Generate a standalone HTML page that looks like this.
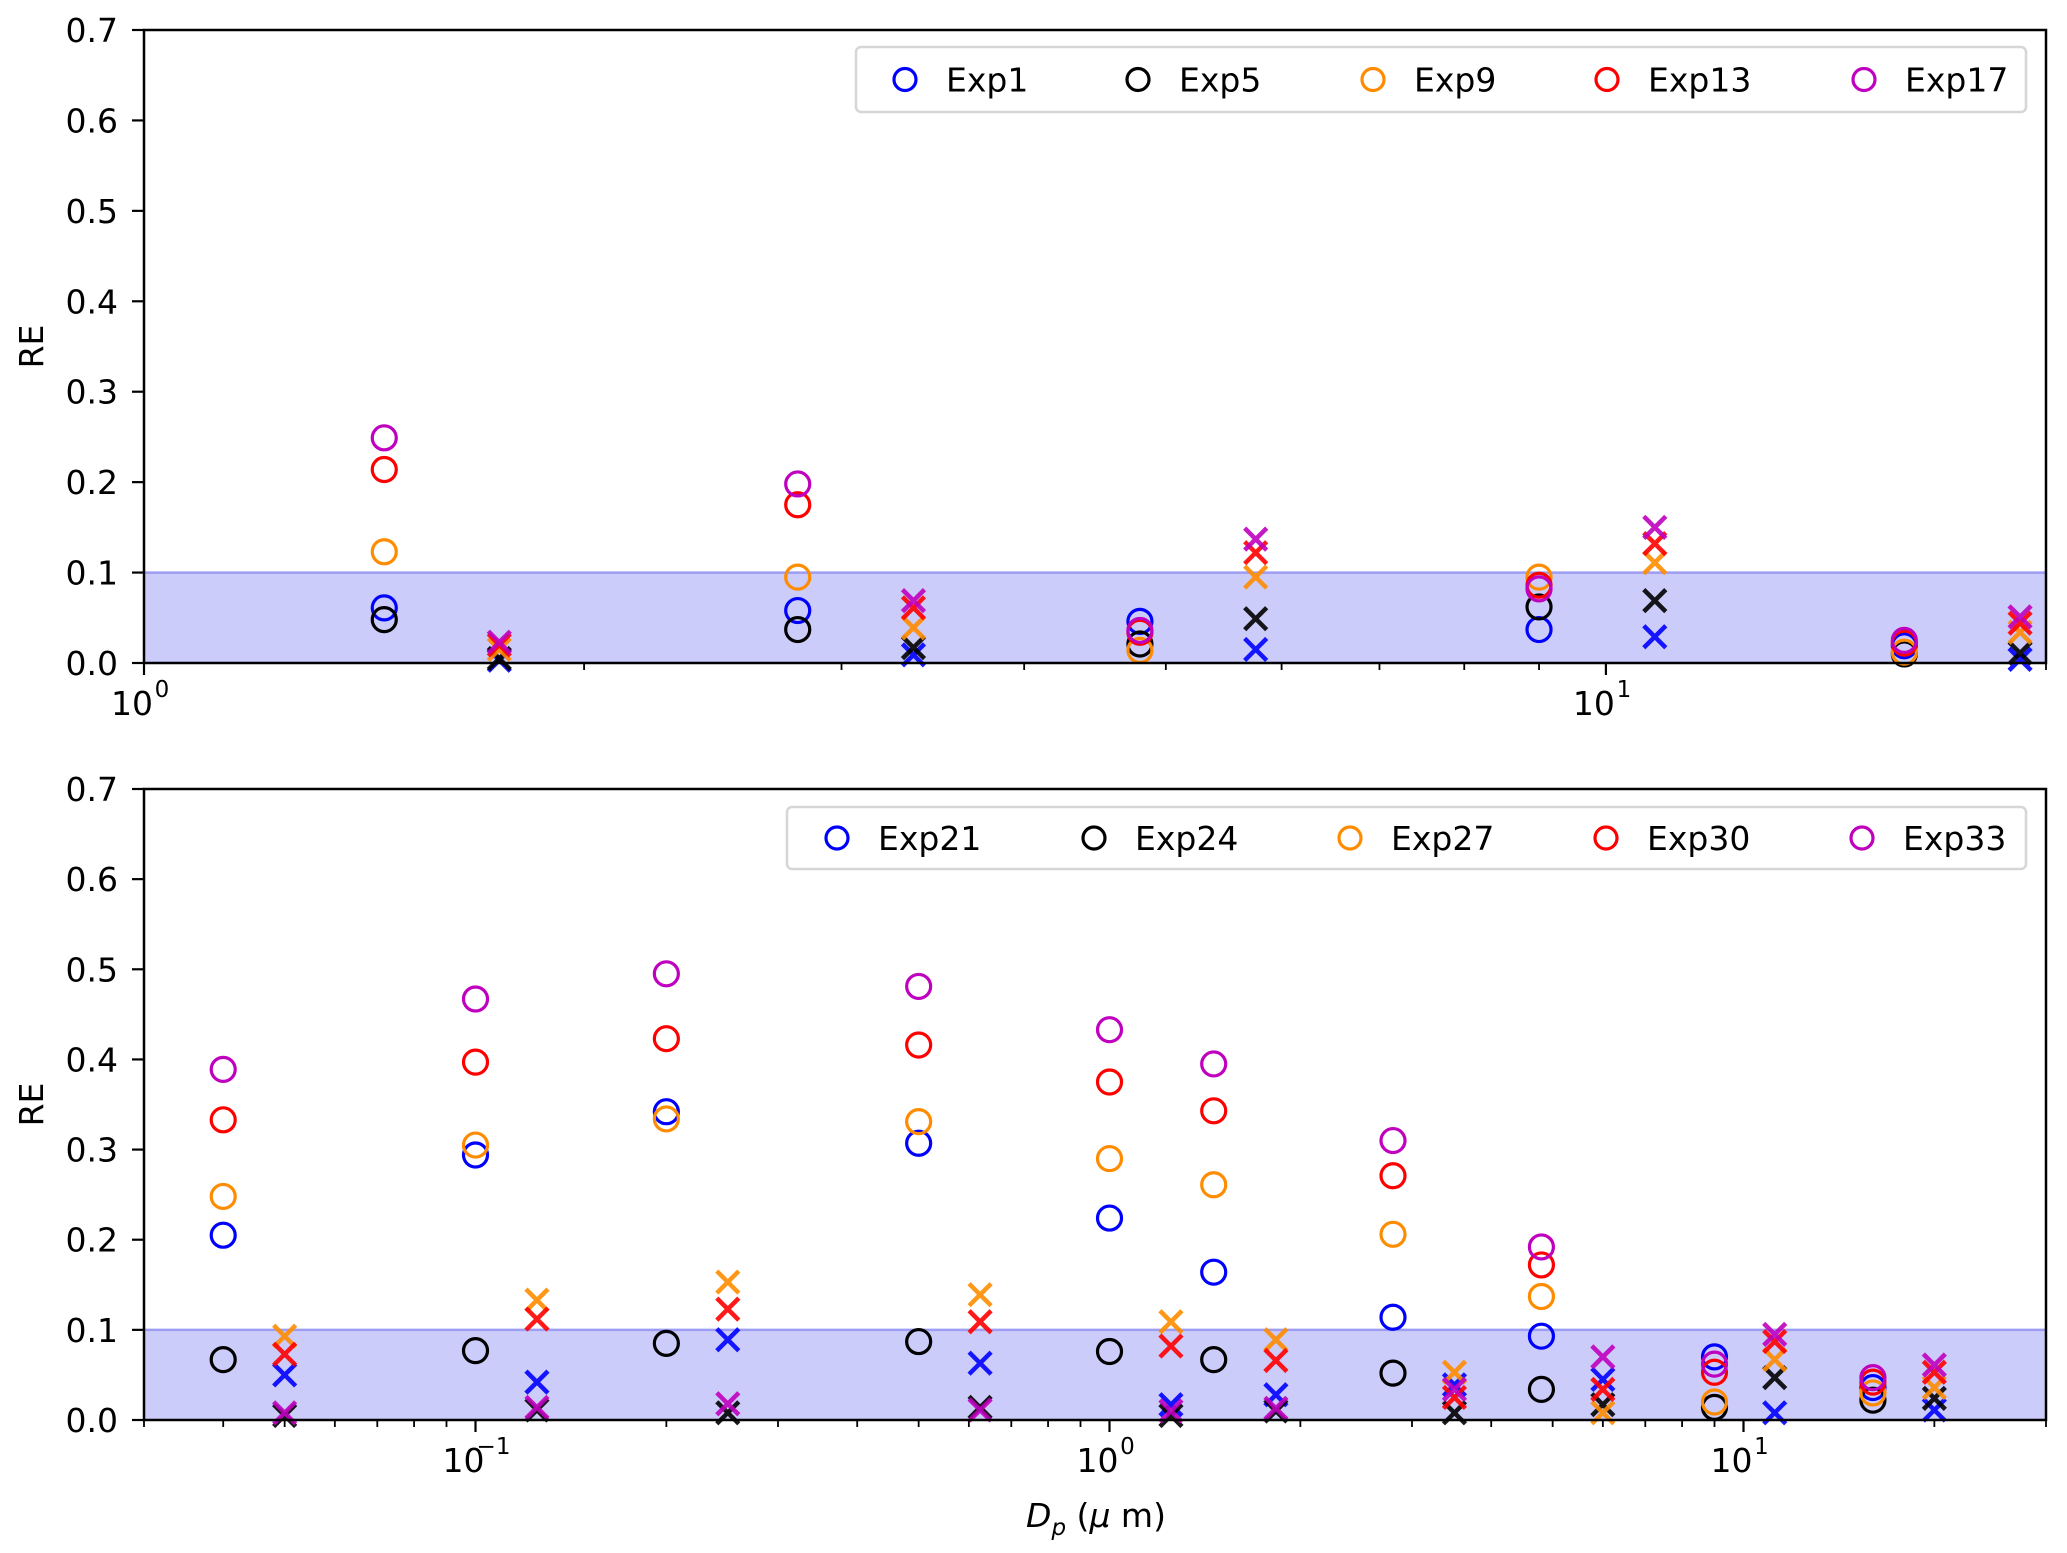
<!DOCTYPE html>
<html><head><meta charset="utf-8"><style>
html,body{margin:0;padding:0;background:#fff;}
svg{display:block;font-family:"DejaVu Sans","Liberation Sans",sans-serif;}
</style></head><body>
<svg id="chart" width="2067" height="1553" viewBox="0 0 2067 1553" xmlns="http://www.w3.org/2000/svg"></svg>
<script>
// ---- Top panel data ----
const topX = [1.46, 1.75, 2.8, 3.36, 4.8, 5.76, 9.0, 10.8, 16.0, 19.2];
const topMarker = ['o','x','o','x','o','x','o','x','o','x'];
const topNames = ['Exp1','Exp5','Exp9','Exp13','Exp17'];
const topExp1  = [0.061, 0.003, 0.058, 0.009, 0.046, 0.015, 0.037, 0.029, 0.019, 0.004];
const topExp5  = [0.048, 0.005, 0.037, 0.017, 0.021, 0.049, 0.062, 0.069, 0.010, 0.011];
const topExp9  = [0.123, 0.015, 0.095, 0.039, 0.014, 0.095, 0.095, 0.111, 0.012, 0.034];
const topExp13 = [0.214, 0.020, 0.175, 0.061, 0.034, 0.122, 0.086, 0.132, 0.022, 0.044];
const topExp17 = [0.249, 0.023, 0.198, 0.069, 0.036, 0.137, 0.082, 0.150, 0.025, 0.051];
// ---- Bottom panel data ----
const botX = [0.04, 0.05, 0.1, 0.125, 0.2, 0.25, 0.5, 0.625, 1.0, 1.25, 1.46, 1.83, 2.8, 3.5, 4.8, 6.0, 9.0, 11.2, 16.0, 20.0];
const botMarker = ['o','x','o','x','o','x','o','x','o','x','o','x','o','x','o','x','o','x','o','x'];
const botNames = ['Exp21','Exp24','Exp27','Exp30','Exp33'];
const botExp21 = [0.205,0.050,0.294,0.042,0.342,0.089,0.307,0.063,0.224,0.017,0.164,0.028,0.114,0.039,0.093,0.045,0.070,0.008,0.036,0.011];
const botExp24 = [0.067,0.005,0.077,0.011,0.085,0.008,0.087,0.014,0.076,0.005,0.067,0.010,0.052,0.008,0.034,0.017,0.014,0.047,0.022,0.024];
const botExp27 = [0.248,0.093,0.305,0.133,0.334,0.153,0.331,0.139,0.290,0.109,0.261,0.089,0.206,0.053,0.137,0.008,0.020,0.067,0.030,0.036];
const botExp30 = [0.333,0.073,0.397,0.112,0.423,0.123,0.416,0.109,0.375,0.082,0.343,0.066,0.271,0.025,0.172,0.034,0.053,0.087,0.042,0.053];
const botExp33 = [0.389,0.008,0.467,0.014,0.495,0.018,0.481,0.011,0.433,0.010,0.395,0.013,0.310,0.034,0.192,0.070,0.062,0.095,0.047,0.061];
const yTicks = [0.0,0.1,0.2,0.3,0.4,0.5,0.6,0.7];
const colors = ['#0000ff','#000000','#ff8c00','#ff0000','#bf00bf'];

const NS='http://www.w3.org/2000/svg';
const svg=document.getElementById('chart');
function mk(tag, attrs, parent){const e=document.createElementNS(NS,tag);for(const k in attrs)e.setAttribute(k,attrs[k]);(parent||svg).appendChild(e);return e;}

function panel(cfg){
  const {L,R,T,B,xmin,xmax,series,xs,markers,names,leg,pfx,decades}=cfg;
  const g=mk('g',{});
  
  
  const lx=Math.log10(xmin), hx=Math.log10(xmax);
  const sx=v=>L+(Math.log10(v)-lx)/(hx-lx)*(R-L);
  const sy=v=>B-v/0.7*(B-T);
  const band=mk('rect',{x:L,y:sy(0.1),width:R-L,height:B-sy(0.1),fill:'#ccccfa'},g);
  
  
  mk('line',{x1:L,x2:R,y1:sy(0.1),y2:sy(0.1),stroke:'#9d9df3','stroke-width':2.5},g);
  for(let s=0;s<series.length;s++){
    for(let i=0;i<xs.length;i++){
      const cx=sx(xs[i]), cy=sy(series[s][i]);
      if(markers[i]==='o'){
        const c=mk('circle',{cx:cx,cy:cy,r:12,fill:'none',stroke:colors[s],'stroke-width':3.2},g);
        
        
      } else {
        const p=mk('path',{d:`M${cx-11},${cy-11}L${cx+11},${cy+11}M${cx-11},${cy+11}L${cx+11},${cy-11}`,stroke:colors[s],'stroke-width':4.5,fill:'none','stroke-opacity':0.9},g);
        
        
      }
    }
  }
  const fr=mk('rect',{x:L,y:T,width:R-L,height:B-T,fill:'none',stroke:'#000','stroke-width':2.5},g);
  
  
  yTicks.forEach(v=>{
    const y=sy(v);
    mk('line',{x1:L-12,x2:L,y1:y,y2:y,stroke:'#000','stroke-width':2.2},g);
    const t=mk('text',{x:L-26,y:y+12,'text-anchor':'end','font-size':33,fill:'#000'},g);
    t.textContent=v.toFixed(1);
    
    
  });
  for(let d=decades[0]; d<=decades[1]; d++){
    for(let m=1;m<10;m++){
      const v=m*Math.pow(10,d);
      if(v<xmin*0.999||v>xmax*1.001) continue;
      const x=sx(v);
      mk('line',{x1:x,x2:x,y1:B,y2:B+(m===1?12:7),stroke:'#000','stroke-width':m===1?2.2:1.8},g);
      if(m===1){
        const t=mk('text',{x:x-12,y:B+52,'text-anchor':'middle','font-size':33,fill:'#000'},g);
        t.textContent='10';
        
        
        const e=mk('text',{x:x+18,y:B+34,'text-anchor':'middle','font-size':23,fill:'#000'},g);
        e.textContent=(d<0?'\u2212':'')+Math.abs(d);
      }
    }
  }
  const yl=mk('text',{x:0,y:0,'text-anchor':'middle','font-size':33,fill:'#000',transform:`translate(43,${(T+B)/2}) rotate(-90)`},g);
  yl.textContent='RE';
  
  
  const lg=mk('g',{},g);
  
  
  mk('rect',{x:leg.x,y:leg.y,width:leg.w,height:leg.h,rx:5,fill:'#fff','fill-opacity':0.85,stroke:'#d6d6d6','stroke-width':2.5},lg);
  names.forEach((n,i)=>{
    const ent=mk('g',{},lg);
    
    
    const cx=leg.cx[i], cy=leg.y+leg.h/2;
    mk('circle',{cx:cx,cy:cy,r:11,fill:'none',stroke:colors[i],'stroke-width':3.2},ent);
    const t=mk('text',{x:cx+41,y:cy+12,'font-size':33,fill:'#000'},ent);
    t.textContent=n;
  });
}

panel({L:144,R:2046,T:30,B:663,xmin:1,xmax:20,decades:[0,1],
  series:[topExp1,topExp5,topExp9,topExp13,topExp17],xs:topX,markers:topMarker,names:topNames,pfx:'top',
  leg:{x:856,y:47,w:1170,h:65,cx:[905,1138,1373,1607,1864]}});
panel({L:144,R:2046,T:789,B:1420,xmin:0.03,xmax:30,decades:[-2,1],
  series:[botExp21,botExp24,botExp27,botExp30,botExp33],xs:botX,markers:botMarker,names:botNames,pfx:'bottom',
  leg:{x:787,y:807,w:1239,h:62,cx:[837,1094,1350,1606,1862]}});

const xt=mk('text',{x:1096,y:1527,'text-anchor':'middle','font-size':33,fill:'#000'});


xt.innerHTML='<tspan font-style="italic">D</tspan><tspan font-style="italic" font-size="23" dy="8">p</tspan><tspan dy="-8"> (</tspan><tspan font-style="italic">μ</tspan><tspan> m)</tspan>';
</script>
</body></html>
